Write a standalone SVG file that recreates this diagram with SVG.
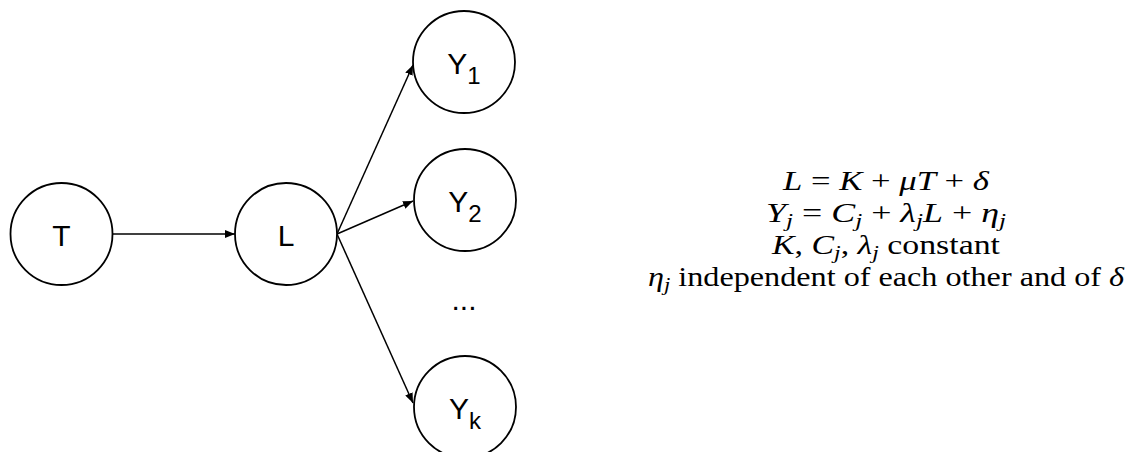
<svg xmlns="http://www.w3.org/2000/svg" width="1126" height="452" viewBox="0 0 1126 452">
<style>
.node{fill:#fff;stroke:#000;stroke-width:1.8}
.lbl{font-family:"Liberation Sans",Arial,sans-serif;font-size:30px;fill:#000}
.sub{font-size:24px}
.edge{stroke:#000;stroke-width:1.5;fill:none;marker-end:url(#arr)}
.eq{font-family:"Liberation Serif","Times New Roman",serif;font-size:27px;fill:#000;text-anchor:middle}
.i{font-style:italic}
.s{font-size:19px;font-style:italic}
</style>
<defs>
<marker id="arr" viewBox="0 0 10 8" refX="10" refY="4" markerWidth="10" markerHeight="8" markerUnits="userSpaceOnUse" orient="auto">
<path d="M0,0 L10,4 L0,8 Z" fill="#000"/>
</marker>
</defs>
<rect width="1126" height="452" fill="#fff"/>
<g id="connectors">
<line class="edge" x1="113" y1="234" x2="235" y2="234"/>
<line class="edge" x1="337" y1="234" x2="413" y2="65"/>
<line class="edge" x1="337" y1="234" x2="413" y2="201"/>
<line class="edge" x1="337" y1="234" x2="413" y2="403"/>
</g>
<g id="node-T">
<circle class="node" cx="61.5" cy="234" r="51"/>
<text class="lbl" x="61.5" y="246" text-anchor="middle">T</text>
</g>
<g id="node-L">
<circle class="node" cx="286" cy="234" r="51"/>
<text class="lbl" x="286" y="246" text-anchor="middle">L</text>
</g>
<g id="node-Y1">
<circle class="node" cx="464" cy="62" r="51"/>
<text class="lbl" x="464" y="74" text-anchor="middle">Y<tspan class="sub" dy="10">1</tspan></text>
</g>
<g id="node-Y2">
<circle class="node" cx="465" cy="200" r="51"/>
<text class="lbl" x="465" y="212" text-anchor="middle">Y<tspan class="sub" dy="10">2</tspan></text>
</g>
<g id="node-dots">
<text class="lbl" x="464" y="310" text-anchor="middle">...</text>
</g>
<g id="node-Yk">
<circle class="node" cx="465" cy="407" r="51"/>
<text class="lbl" x="465" y="419" text-anchor="middle">Y<tspan class="sub" dy="10">k</tspan></text>
</g>
<g id="equations">
<text class="eq" x="886" y="190" textLength="206" lengthAdjust="spacingAndGlyphs"><tspan class="i">L</tspan> = <tspan class="i">K</tspan> + <tspan class="i">μT</tspan> + <tspan class="i">δ</tspan></text>
<text class="eq" x="886" y="222" textLength="240" lengthAdjust="spacingAndGlyphs"><tspan class="i">Y</tspan><tspan class="s" dy="5">j</tspan><tspan dy="-5"> = </tspan><tspan class="i">C</tspan><tspan class="s" dy="5">j</tspan><tspan dy="-5"> + </tspan><tspan class="i">λ</tspan><tspan class="s" dy="5">j</tspan><tspan class="i" dy="-5">L</tspan> + <tspan class="i">η</tspan><tspan class="s" dy="5">j</tspan></text>
<text class="eq" x="886" y="254" textLength="228" lengthAdjust="spacingAndGlyphs"><tspan class="i">K</tspan>, <tspan class="i">C</tspan><tspan class="s" dy="5">j</tspan><tspan dy="-5">, </tspan><tspan class="i">λ</tspan><tspan class="s" dy="5">j</tspan><tspan dy="-5"> constant</tspan></text>
<text class="eq" x="886" y="286" textLength="476" lengthAdjust="spacingAndGlyphs"><tspan class="i">η</tspan><tspan class="s" dy="5">j</tspan><tspan dy="-5"> independent of each other and of </tspan><tspan class="i">δ</tspan></text>
</g>
</svg>
